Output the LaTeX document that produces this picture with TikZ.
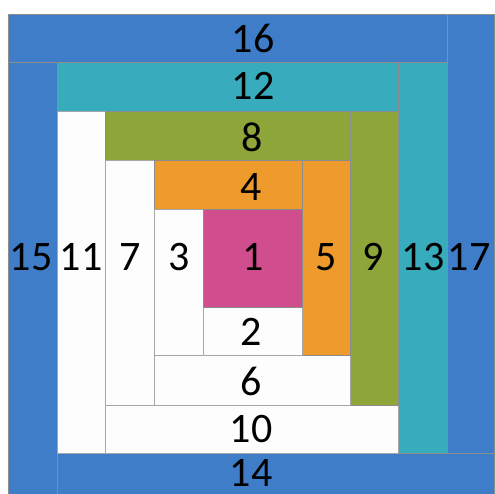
\documentclass[tikz,border=0pt]{standalone}
\usepackage{fontspec}
\setmainfont{Carlito}
\definecolor{qblue}{HTML}{3F7DC8}
\definecolor{qteal}{HTML}{38ABBD}
\definecolor{qgreen}{HTML}{8EA53A}
\definecolor{qorange}{HTML}{EE9A2C}
\definecolor{qpink}{HTML}{D14E8E}
\definecolor{qwhite}{HTML}{FDFDFD}
\tikzset{
  piece/.style={draw=black!45, line width=0.7pt},
  wpiece/.style={fill=qwhite, draw=black!35, line width=0.7pt},
  num/.style={inner sep=0pt, font=\fontsize{42}{42}\selectfont, text=black}
}
\begin{document}
\begin{tikzpicture}[x=1pt,y=-1pt]
\useasboundingbox (0,0) rectangle (494,494);
% round 4
\filldraw[piece, fill=qblue] (8,14) rectangle (447,62);
\filldraw[piece, fill=qblue] (447,14) rectangle (494,453);
\filldraw[piece, fill=qblue] (8,62) rectangle (57,494);
\filldraw[piece, fill=qblue] (57,453) rectangle (494,494);
% round 3
\filldraw[piece, fill=qteal] (57,62) rectangle (398,111);
\filldraw[piece, fill=qteal] (398,62) rectangle (447,453);
\filldraw[wpiece] (57,111) rectangle (105,453);
\filldraw[wpiece] (105,405) rectangle (398,453);
% round 2
\filldraw[piece, fill=qgreen] (105,111) rectangle (350,160);
\filldraw[piece, fill=qgreen] (350,111) rectangle (398,405);
\filldraw[wpiece] (105,160) rectangle (154,405);
\filldraw[wpiece] (154,355) rectangle (350,405);
% round 1
\filldraw[piece, fill=qorange] (154,160) rectangle (302,209);
\filldraw[piece, fill=qorange] (302,160) rectangle (350,355);
\filldraw[wpiece] (154,209) rectangle (203,355);
\filldraw[wpiece] (203,307) rectangle (302,355);
% centre
\filldraw[piece, fill=qpink] (203,209) rectangle (302,307);
% labels
\node[num] (n16) at (253,38) {16};
\node[num] (n12) at (253,86) {12};
\node[num] (n8) at (252,137) {8};
\node[num] (n4) at (251,187) {4};
\node[num] (n1) at (253,257) {1};
\node[num] (n2) at (251,332) {2};
\node[num] (n6) at (251,381) {6};
\node[num] (n10) at (251,429) {10};
\node[num] (n14) at (251,473) {14};
\node[num] (n15) at (31,257) {15};
\node[num] (n11) at (81,257) {11};
\node[num] (n7) at (130,257) {7};
\node[num] (n3) at (179,257) {3};
\node[num] (n5) at (326,257) {5};
\node[num] (n9) at (373,257) {9};
\node[num] (n13) at (423,257) {13};
\node[num] (n17) at (469,257) {17};
\end{tikzpicture}
\end{document}
